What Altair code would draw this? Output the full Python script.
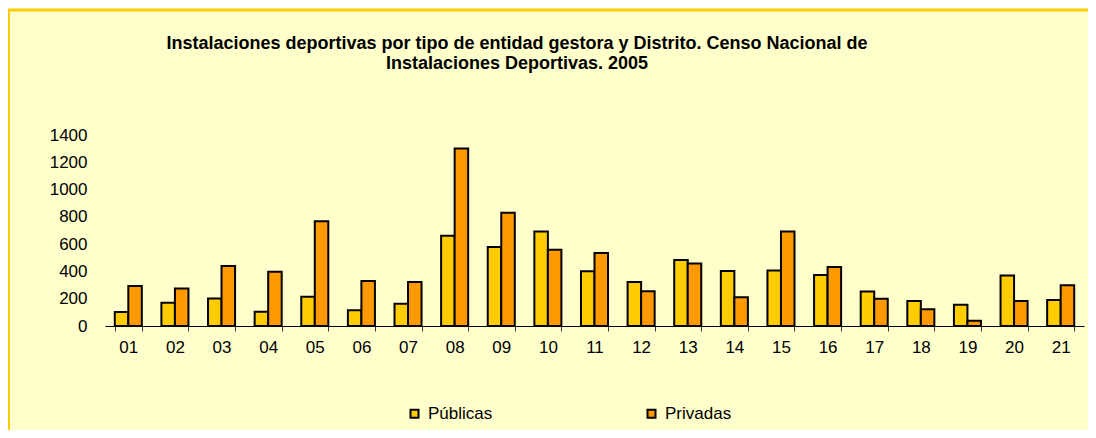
import altair as alt
import pandas as pd

districts = ["01","02","03","04","05","06","07","08","09","10","11","12","13","14","15","16","17","18","19","20","21"]
publicas = [103,171,201,105,215,115,164,662,579,693,402,323,483,404,407,373,252,184,155,370,191]
privadas = [294,274,439,397,767,329,323,1301,831,559,535,255,458,211,693,432,199,123,38,184,299]
series = ["Públicas", "Privadas"]
y_ticks = [0, 200, 400, 600, 800, 1000, 1200, 1400]
title_line1 = "Instalaciones deportivas por tipo de entidad gestora y Distrito. Censo Nacional de"
title_line2 = "Instalaciones Deportivas. 2005"

rows = []
for d, p, q in zip(districts, publicas, privadas):
    rows.append({"Distrito": d, "Tipo": series[0], "Valor": p})
    rows.append({"Distrito": d, "Tipo": series[1], "Valor": q})
df = pd.DataFrame(rows)

FONT = "Liberation Sans"
one = alt.Data(values=[{"a": 1}])

panel = alt.Chart(one).mark_rect(
    fill="#FFFFCC", stroke="#FFCC00", strokeWidth=3
).encode(
    x=alt.value(-96.5), x2=alt.value(1100), y=alt.value(-125), y2=alt.value(400)
)

t1 = alt.Chart(one).mark_text(font=FONT, fontSize=18, fontWeight="bold", color="black",
                              align="center", baseline="middle").encode(
    x=alt.value(412), y=alt.value(-91), text=alt.value(title_line1))
t2 = alt.Chart(one).mark_text(font=FONT, fontSize=18, fontWeight="bold", color="black",
                              align="center", baseline="middle").encode(
    x=alt.value(412), y=alt.value(-71), text=alt.value(title_line2))

bars = alt.Chart(df).mark_bar(stroke="black", strokeWidth=2).encode(
    x=alt.X("Distrito:N", sort=districts,
            scale=alt.Scale(paddingInner=0.42, paddingOuter=0.21),
            axis=alt.Axis(title=None, labelAngle=0, tickBand="extent", tickSize=5,
                          tickColor="#333333", domainColor="black", labelFont=FONT,
                          labelFontSize=17, labelColor="black", labelPadding=8, grid=False,
                          zindex=1)),
    xOffset=alt.XOffset("Tipo:N", sort=series, scale=alt.Scale(paddingInner=0, paddingOuter=0)),
    y=alt.Y("Valor:Q", scale=alt.Scale(domain=[0, 1400], nice=False),
            axis=alt.Axis(title=None, values=y_ticks, format="d", domain=False, ticks=False,
                          grid=False, labelFont=FONT, labelFontSize=17, labelColor="black",
                          labelPadding=18, zindex=1)),
    fill=alt.Fill("Tipo:N", sort=series,
                  scale=alt.Scale(domain=series, range=["#FFCC00", "#FF9900"]),
                  legend=alt.Legend(title=None, orient="none", legendX=301, legendY=270,
                                    direction="horizontal", symbolType="square", symbolSize=64,
                                    symbolStrokeColor="black", symbolStrokeWidth=2,
                                    labelFont=FONT, labelFontSize=17, labelColor="black",
                                    labelOffset=5, columnPadding=150)),
)

chart = alt.layer(panel, t1, t2, bars).properties(
    width=979, height=191,
    padding={"left": 97, "top": 127, "right": 4, "bottom": 104},
    autosize=alt.AutoSizeParams(type="none"),
    background="white",
).configure_view(stroke=None)

chart.save("out.html", embed_options={"renderer": "svg", "actions": False})
